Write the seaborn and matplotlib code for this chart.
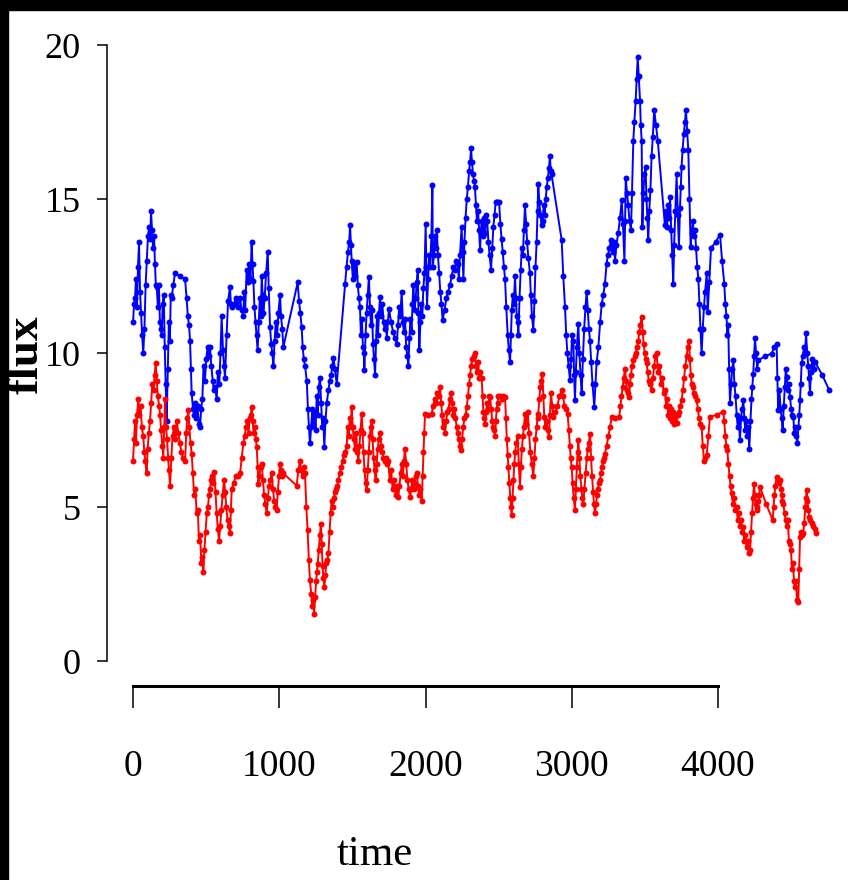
import numpy as np
import matplotlib
matplotlib.use("Agg")
import matplotlib.pyplot as plt
import seaborn as sns

# blue light curve, (time, flux) pairs
blue_series = [
    (0, 11.0), (7, 11.6), (14, 11.8), (20, 12.4), (27, 11.5), (34, 12.8), (41, 13.6),
    (48, 12.0), (55, 11.3), (62, 10.6), (70, 10.0), (78, 10.8), (86, 12.2), (94, 13.0),
    (102, 13.8), (110, 14.1), (117, 13.7), (123, 14.6), (130, 14.0), (137, 13.4),
    (144, 13.8), (150, 12.9), (156, 12.2), (162, 12.15), (170, 11.5), (177, 12.2),
    (184, 11.0), (190, 10.8), (196, 10.6), (203, 11.6), (210, 11.9), (217, 10.2),
    (223, 9.0), (230, 7.8), (238, 9.5), (245, 11.0), (252, 10.4), (258, 11.9),
    (264, 11.8), (275, 12.2), (287, 12.6), (320, 12.5), (356, 12.4), (366, 11.8),
    (375, 11.2), (383, 10.9), (390, 10.4), (396, 9.5), (401, 8.7), (410, 8.2),
    (418, 8.0), (426, 8.4), (433, 7.9), (441, 8.3), (450, 7.7), (458, 7.6), (466, 8.2),
    (474, 8.5), (482, 9.6), (492, 9.1), (500, 9.8), (510, 10.2), (518, 9.9),
    (526, 10.2), (535, 9.6), (545, 9.1), (553, 8.8), (562, 8.9), (572, 8.5),
    (580, 9.4), (590, 9.0), (598, 10.0), (606, 11.2), (615, 10.1), (622, 9.6),
    (629, 9.2), (640, 10.6), (650, 11.7), (663, 12.15), (669, 11.6), (675, 11.5),
    (690, 11.6), (705, 11.8), (718, 11.5), (732, 11.8), (742, 11.4), (754, 11.2),
    (760, 12.0), (767, 11.4), (777, 12.7), (785, 12.3), (795, 12.9), (803, 12.4),
    (811, 13.6), (817, 12.9), (823, 12.35), (830, 11.5), (838, 11.0), (845, 10.6),
    (852, 10.1), (860, 11.0), (867, 11.8), (874, 11.2), (880, 12.5), (886, 11.9),
    (891, 11.3), (900, 11.8), (910, 12.6), (921, 13.3), (928, 12.1), (937, 10.85),
    (945, 10.3), (952, 10.0), (960, 9.6), (968, 10.4), (976, 11.0), (985, 10.6),
    (994, 11.3), (1005, 11.9), (1012, 11.2), (1020, 10.8), (1028, 10.2),
    (1126, 12.3), (1135, 11.7), (1144, 11.3), (1153, 10.85), (1160, 10.2),
    (1168, 9.8), (1176, 9.6), (1188, 9.1), (1196, 8.2), (1203, 7.6), (1210, 7.07),
    (1218, 7.6), (1226, 8.2), (1233, 7.7), (1240, 8.1), (1248, 7.5), (1256, 8.6),
    (1263, 8.0), (1270, 8.9), (1279, 9.2), (1286, 8.4), (1294, 7.6), (1301, 7.9),
    (1308, 6.96), (1316, 7.8), (1325, 8.4), (1336, 8.8), (1345, 9.1), (1355, 9.3),
    (1363, 9.6), (1370, 9.85), (1380, 9.5), (1393, 9.0), (1450, 12.26),
    (1460, 12.8), (1470, 13.3), (1478, 13.6), (1484, 14.16), (1490, 13.5),
    (1495, 13.0), (1503, 12.4), (1510, 12.9), (1518, 12.5), (1529, 12.96),
    (1537, 12.2), (1545, 11.8), (1552, 11.5), (1558, 10.6), (1565, 11.1),
    (1572, 10.2), (1578, 10.0), (1582, 9.45), (1590, 10.6), (1597, 11.3),
    (1605, 11.9), (1613, 12.48), (1620, 11.5), (1627, 10.9), (1634, 11.4),
    (1641, 10.3), (1648, 9.8), (1655, 9.29), (1662, 10.4), (1668, 11.2),
    (1675, 10.6), (1682, 11.3), (1689, 11.83), (1697, 11.2), (1705, 11.6),
    (1713, 11.0), (1720, 10.8), (1728, 11.0), (1735, 10.5), (1750, 11.45),
    (1765, 11.0), (1778, 10.7), (1790, 10.5), (1803, 10.3), (1812, 10.9),
    (1820, 11.5), (1828, 11.2), (1837, 12.0), (1845, 11.0), (1852, 10.7),
    (1860, 11.1), (1868, 10.2), (1876, 9.9), (1883, 9.6), (1890, 10.5),
    (1897, 11.1), (1905, 10.7), (1911, 11.6), (1917, 12.2), (1925, 11.4),
    (1933, 11.8), (1940, 12.3), (1947, 12.7), (1952, 11.3), (1958, 10.1),
    (1965, 11.0), (1972, 11.6), (1978, 11.2), (1985, 12.1), (1993, 12.6),
    (2001, 14.2), (2006, 12.8), (2010, 11.5), (2018, 12.4), (2025, 13.2),
    (2032, 12.8), (2040, 13.8), (2047, 15.45), (2050, 12.8), (2058, 13.2),
    (2065, 13.8), (2071, 13.4), (2077, 14.0), (2085, 13.2), (2093, 12.6),
    (2101, 12.0), (2109, 11.6), (2117, 11.07), (2130, 11.4), (2143, 11.8),
    (2155, 12.0), (2167, 12.2), (2179, 12.5), (2190, 12.8), (2200, 12.7),
    (2210, 13.0), (2220, 12.9), (2228, 12.4), (2236, 13.2), (2247, 14.1),
    (2253, 13.3), (2259, 12.4), (2266, 13.6), (2274, 14.4), (2282, 15.0),
    (2290, 15.4), (2298, 15.9), (2305, 16.2), (2311, 16.65), (2318, 16.2),
    (2325, 15.8), (2332, 15.6), (2338, 15.4), (2345, 14.8), (2352, 14.3),
    (2360, 14.6), (2366, 14.0), (2373, 13.35), (2378, 13.9), (2384, 14.3),
    (2392, 13.8), (2400, 14.4), (2408, 13.9), (2415, 14.5), (2422, 14.3),
    (2430, 13.6), (2438, 13.2), (2448, 12.7), (2456, 13.4), (2464, 14.1),
    (2472, 14.5), (2480, 14.9), (2490, 14.9), (2503, 14.9), (2512, 14.2),
    (2520, 13.7), (2528, 13.3), (2536, 12.8), (2544, 12.4), (2552, 11.5),
    (2562, 10.6), (2570, 10.1), (2578, 9.7), (2584, 10.6), (2590, 11.4),
    (2597, 11.9), (2604, 11.6), (2612, 12.5), (2618, 11.8), (2624, 11.2),
    (2630, 11.0), (2635, 10.6), (2643, 11.8), (2651, 12.7), (2658, 13.4),
    (2666, 13.2), (2673, 14.0), (2680, 14.8), (2688, 14.2), (2695, 13.6),
    (2703, 13.1), (2714, 12.6), (2720, 11.9), (2728, 11.2), (2737, 10.75),
    (2745, 11.7), (2752, 12.8), (2760, 13.6), (2766, 14.6), (2771, 15.5),
    (2778, 14.9), (2786, 14.5), (2794, 14.16), (2801, 14.3), (2808, 14.8),
    (2815, 14.5), (2822, 15.0), (2829, 15.4), (2837, 15.7), (2844, 16.0),
    (2851, 16.4), (2856, 15.9), (2862, 15.8), (2931, 13.67), (2942, 12.5),
    (2954, 11.5), (2962, 10.6), (2970, 10.0), (2978, 9.6), (2988, 9.12),
    (2995, 9.8), (3003, 10.6), (3011, 10.4), (3016, 9.3), (3022, 8.47),
    (3028, 9.4), (3035, 10.2), (3045, 10.96), (3052, 10.0), (3060, 9.3),
    (3068, 8.7), (3076, 9.8), (3085, 10.8), (3094, 11.5), (3102, 12.0),
    (3110, 11.4), (3117, 10.8), (3125, 10.4), (3133, 9.7), (3142, 9.0),
    (3154, 8.26), (3162, 9.0), (3170, 9.7), (3182, 10.2), (3194, 11.0),
    (3205, 11.6), (3216, 11.9), (3227, 12.26), (3238, 12.9), (3248, 13.2),
    (3258, 13.4), (3268, 13.67), (3280, 13.3), (3288, 13.6), (3296, 13.0),
    (3305, 13.5), (3318, 13.9), (3330, 14.4), (3342, 14.97), (3350, 14.2),
    (3360, 13.0), (3365, 14.3), (3369, 15.7), (3378, 15.2), (3386, 14.8),
    (3395, 14.3), (3405, 14.0), (3412, 15.2), (3421, 16.9), (3428, 17.5),
    (3437, 18.2), (3444, 18.9), (3451, 19.6), (3458, 19.0), (3467, 18.2),
    (3472, 17.4), (3478, 16.9), (3483, 14.1), (3490, 15.2), (3497, 15.8),
    (3505, 16.05), (3511, 15.0), (3517, 14.4), (3523, 13.67), (3530, 14.6),
    (3538, 15.3), (3546, 16.4), (3554, 17.0), (3564, 17.9), (3576, 17.4),
    (3588, 16.9), (3637, 14.16), (3645, 14.6), (3652, 14.1), (3660, 14.8),
    (3667, 14.4), (3672, 15.07), (3680, 14.0), (3687, 13.2), (3694, 12.26),
    (3700, 13.5), (3708, 14.6), (3717, 15.8), (3725, 14.5), (3733, 13.45),
    (3740, 14.7), (3746, 15.4), (3751, 16.05), (3758, 16.6), (3766, 17.1),
    (3774, 17.5), (3781, 17.9), (3789, 17.2), (3797, 16.6), (3805, 15.0),
    (3813, 13.45), (3820, 13.9), (3828, 14.3), (3835, 13.8), (3843, 14.0),
    (3850, 13.4), (3858, 12.8), (3866, 12.4), (3873, 11.6), (3880, 10.8),
    (3888, 10.0), (3896, 10.8), (3904, 11.5), (3912, 12.0), (3923, 12.6),
    (3930, 11.34), (3940, 12.3), (3952, 13.4), (3983, 13.6), (4014, 13.85),
    (4028, 13.0), (4043, 12.26), (4050, 11.6), (4058, 11.2), (4064, 10.6),
    (4070, 10.9), (4076, 9.5), (4082, 8.4), (4090, 9.0), (4097, 9.5),
    (4105, 9.77), (4112, 9.0), (4120, 8.6), (4128, 8.0), (4135, 7.6),
    (4142, 7.9), (4150, 7.17), (4158, 7.9), (4165, 8.2), (4173, 8.47),
    (4180, 7.9), (4187, 7.5), (4194, 7.8), (4200, 7.3), (4207, 7.6),
    (4214, 6.9), (4222, 7.8), (4229, 8.5), (4235, 8.9), (4241, 9.34),
    (4247, 9.9), (4253, 10.48), (4260, 10.0), (4268, 9.5), (4276, 9.77),
    (4320, 9.9), (4367, 9.99), (4385, 10.2), (4401, 10.3), (4406, 9.2),
    (4412, 8.15), (4420, 8.8), (4428, 8.2), (4435, 7.9), (4442, 7.5),
    (4450, 8.3), (4457, 8.9), (4464, 9.5), (4470, 9.23), (4477, 8.8),
    (4484, 9.0), (4492, 8.58), (4500, 8.2), (4508, 8.0), (4515, 7.93),
    (4522, 7.4), (4530, 7.6), (4536, 7.3), (4542, 7.07), (4550, 7.6),
    (4556, 8.0), (4561, 8.47), (4566, 9.0), (4572, 9.67), (4580, 9.9),
    (4588, 10.2), (4595, 10.0), (4602, 10.64), (4610, 10.0), (4617, 9.6),
    (4623, 9.2), (4629, 8.7), (4636, 9.4), (4645, 9.8), (4654, 9.5),
    (4663, 9.72), (4712, 9.3), (4761, 8.8),
]

# red light curve
red_series = [
    (0, 6.5), (7, 7.2), (14, 7.8), (20, 7.1), (27, 8.0), (36, 8.5), (44, 8.0),
    (52, 8.3), (60, 7.6), (70, 7.3), (77, 6.8), (85, 6.5), (93, 6.1), (100, 6.9),
    (108, 7.4), (116, 7.8), (124, 8.4), (132, 9.0), (140, 8.8), (148, 9.3),
    (155, 9.67), (162, 9.1), (170, 8.6), (178, 8.3), (185, 8.0), (192, 7.5),
    (200, 7.0), (207, 6.6), (213, 7.6), (219, 8.5), (226, 7.6), (233, 7.2),
    (240, 6.6), (246, 6.2), (253, 5.7), (262, 6.6), (270, 7.3), (280, 7.6),
    (290, 7.2), (299, 7.8), (310, 7.4), (320, 7.1), (330, 6.8), (343, 6.6),
    (356, 6.5), (364, 7.4), (371, 7.9), (378, 8.15), (385, 7.6), (393, 7.1),
    (401, 6.74), (409, 6.1), (418, 5.4), (426, 5.6), (435, 4.8), (443, 4.9),
    (451, 3.9), (459, 4.1), (467, 3.2), (474, 3.4), (481, 2.9), (488, 3.6),
    (496, 4.2), (504, 4.8), (512, 5.0), (520, 5.4), (527, 5.6), (533, 5.9),
    (540, 6.0), (548, 5.8), (556, 6.15), (564, 5.5), (572, 4.8), (580, 4.3),
    (588, 3.9), (596, 4.4), (604, 4.9), (613, 5.4), (622, 5.9), (630, 5.5),
    (638, 5.0), (646, 4.6), (654, 4.4), (663, 4.15), (669, 4.9), (675, 5.6),
    (689, 5.8), (703, 6.0), (718, 6.0), (732, 6.1), (743, 6.6), (754, 7.07),
    (763, 7.3), (772, 7.6), (782, 7.8), (790, 7.4), (798, 7.9), (806, 8.0),
    (811, 8.26), (818, 7.8), (825, 7.4), (832, 7.6), (840, 7.2), (846, 6.96),
    (852, 6.3), (857, 5.77), (864, 6.0), (872, 6.3), (880, 6.42), (888, 5.9),
    (896, 5.4), (905, 5.1), (914, 4.8), (922, 5.3), (930, 5.7), (939, 5.9),
    (948, 6.1), (957, 5.6), (965, 5.2), (974, 5.0), (982, 4.9), (990, 5.5),
    (998, 6.0), (1005, 6.42), (1012, 6.2), (1020, 6.0), (1028, 6.1),
    (1119, 5.7), (1130, 6.2), (1142, 6.5), (1150, 6.2), (1160, 6.0), (1168, 6.3),
    (1176, 6.1), (1185, 5.0), (1194, 4.25), (1202, 3.3), (1210, 2.63),
    (1218, 2.2), (1226, 1.8), (1232, 2.0), (1238, 1.55), (1245, 2.1),
    (1252, 2.6), (1258, 2.9), (1263, 3.17), (1270, 3.6), (1278, 4.1),
    (1285, 4.47), (1290, 3.8), (1296, 3.1), (1302, 2.7), (1308, 2.4),
    (1315, 2.8), (1322, 3.2), (1329, 3.3), (1336, 3.5), (1344, 4.2), (1351, 4.8),
    (1358, 5.2), (1365, 5.0), (1373, 5.3), (1381, 5.5), (1390, 5.6), (1397, 5.7),
    (1404, 5.9), (1413, 6.1), (1423, 6.3), (1433, 6.5), (1442, 6.7), (1451, 6.8),
    (1461, 7.0), (1468, 7.6), (1475, 7.3), (1482, 7.9), (1489, 7.6),
    (1495, 8.26), (1502, 7.6), (1510, 7.2), (1518, 6.9), (1525, 7.4),
    (1533, 6.8), (1541, 6.5), (1548, 7.0), (1556, 7.5), (1564, 8.04),
    (1570, 7.4), (1576, 6.8), (1583, 6.2), (1590, 5.8), (1598, 5.55),
    (1605, 6.2), (1612, 6.8), (1619, 7.3), (1626, 7.6), (1632, 7.8), (1638, 7.2),
    (1645, 6.6), (1652, 6.2), (1659, 5.9), (1666, 6.4), (1673, 6.9), (1681, 7.2),
    (1689, 7.4), (1697, 7.0), (1705, 6.8), (1712, 6.6), (1720, 6.5), (1728, 6.6),
    (1735, 6.4), (1745, 6.5), (1755, 5.9), (1765, 6.2), (1775, 5.6), (1785, 5.9),
    (1795, 5.4), (1805, 5.7), (1814, 5.33), (1822, 5.7), (1830, 6.1),
    (1838, 6.4), (1845, 6.0), (1852, 6.5), (1860, 6.9), (1868, 6.4), (1876, 5.9),
    (1885, 5.6), (1894, 5.33), (1902, 5.6), (1910, 5.9), (1918, 5.6),
    (1926, 5.8), (1933, 6.0), (1940, 6.1), (1948, 5.7), (1956, 5.4), (1964, 5.6),
    (1974, 5.2), (1980, 6.0), (1986, 6.8), (1991, 7.4), (1997, 8.04),
    (2020, 8.0), (2042, 8.04), (2052, 8.3), (2062, 8.5), (2071, 8.4),
    (2080, 8.7), (2090, 8.6), (2099, 8.9), (2107, 8.4), (2114, 8.0), (2120, 7.6),
    (2126, 7.8), (2133, 7.4), (2141, 7.8), (2150, 8.1), (2158, 8.2), (2166, 8.5),
    (2174, 8.7), (2182, 8.4), (2190, 8.0), (2197, 8.2), (2205, 7.9), (2213, 7.6),
    (2220, 7.4), (2228, 7.2), (2236, 7.0), (2243, 6.85), (2250, 7.2),
    (2258, 7.6), (2266, 7.9), (2274, 8.0), (2282, 8.26), (2290, 8.6),
    (2298, 9.0), (2305, 9.3), (2312, 9.6), (2320, 9.8), (2330, 9.9), (2338, 10.0),
    (2345, 9.6), (2352, 9.4), (2360, 9.7), (2368, 9.2), (2376, 9.4), (2384, 9.2),
    (2390, 8.6), (2396, 8.1), (2402, 7.9), (2407, 7.7), (2414, 8.1), (2422, 8.4),
    (2430, 8.2), (2436, 8.6), (2441, 8.58), (2449, 8.2), (2456, 7.8),
    (2463, 7.6), (2470, 7.5), (2475, 7.3), (2481, 7.8), (2487, 8.2), (2493, 8.4),
    (2498, 8.6), (2510, 8.6), (2522, 8.5), (2533, 8.6), (2544, 8.58),
    (2550, 7.9), (2556, 7.2), (2562, 6.7), (2567, 6.3), (2573, 5.8), (2580, 5.3),
    (2585, 5.0), (2589, 4.74), (2595, 5.3), (2601, 5.9), (2607, 6.4),
    (2613, 6.8), (2621, 7.1), (2630, 7.3), (2638, 6.4), (2646, 5.66),
    (2652, 6.3), (2659, 6.9), (2666, 7.3), (2673, 7.6), (2680, 8.04),
    (2690, 7.7), (2699, 8.1), (2708, 7.4), (2717, 6.8), (2727, 6.4), (2737, 6.0),
    (2745, 6.6), (2752, 7.2), (2760, 7.6), (2766, 7.9), (2771, 8.04),
    (2778, 8.5), (2785, 8.9), (2792, 9.1), (2799, 9.34), (2806, 8.6),
    (2812, 7.93), (2820, 7.6), (2828, 7.8), (2836, 7.5), (2844, 7.28),
    (2851, 8.0), (2858, 8.7), (2866, 8.3), (2874, 7.93), (2888, 8.1),
    (2902, 8.3), (2916, 8.6), (2931, 8.8), (2940, 8.6), (2950, 8.3), (2960, 8.2),
    (2972, 8.04), (2980, 7.5), (2987, 7.0), (2993, 6.6), (2999, 6.3),
    (3006, 5.8), (3013, 5.3), (3022, 4.9), (3028, 5.6), (3035, 6.3), (3040, 6.8),
    (3045, 7.17), (3052, 6.6), (3059, 6.0), (3066, 5.6), (3072, 5.3),
    (3079, 5.12), (3087, 5.6), (3095, 6.1), (3103, 6.6), (3110, 6.9),
    (3117, 7.1), (3125, 7.39), (3132, 6.6), (3139, 6.0), (3146, 5.5),
    (3152, 5.1), (3159, 4.8), (3166, 5.1), (3173, 5.4), (3180, 5.6), (3186, 5.8),
    (3193, 5.88), (3200, 6.1), (3207, 6.3), (3214, 6.5), (3220, 6.6),
    (3227, 6.74), (3239, 7.0), (3250, 7.3), (3262, 7.6), (3273, 7.93),
    (3299, 7.9), (3325, 7.93), (3333, 8.3), (3340, 8.6), (3348, 8.9),
    (3356, 9.2), (3364, 9.5), (3371, 9.1), (3378, 8.8), (3385, 8.7),
    (3391, 8.58), (3398, 9.0), (3405, 9.3), (3413, 9.6), (3421, 9.77),
    (3430, 9.9), (3438, 10.0), (3446, 10.2), (3455, 10.4), (3462, 10.7),
    (3470, 10.9), (3478, 11.18), (3485, 10.7), (3492, 10.3), (3499, 10.0),
    (3506, 9.8), (3512, 9.67), (3519, 9.4), (3527, 9.1), (3535, 9.0),
    (3546, 8.8), (3555, 9.2), (3564, 9.6), (3572, 9.9), (3580, 10.0),
    (3590, 9.4), (3600, 9.6), (3610, 9.0), (3620, 9.2), (3628, 8.7), (3637, 8.8),
    (3645, 8.3), (3652, 8.5), (3660, 8.0), (3667, 8.3), (3672, 7.9),
    (3680, 8.2), (3687, 7.8), (3695, 8.1), (3702, 7.7), (3710, 8.0),
    (3717, 7.72), (3725, 8.0), (3733, 8.1), (3742, 8.3), (3751, 8.47),
    (3760, 8.8), (3768, 9.2), (3777, 9.6), (3785, 9.9), (3794, 10.2),
    (3802, 10.4), (3808, 9.8), (3814, 9.3), (3820, 9.0), (3828, 8.9),
    (3836, 8.7), (3845, 8.6), (3854, 8.47), (3862, 8.2), (3870, 7.9),
    (3880, 7.7), (3888, 7.6), (3896, 7.0), (3905, 6.5), (3914, 6.6),
    (3923, 6.7), (3934, 7.3), (3945, 7.93), (3990, 8.0), (4036, 8.1),
    (4043, 7.8), (4050, 7.3), (4057, 7.0), (4064, 6.85), (4071, 6.4),
    (4079, 6.0), (4086, 5.7), (4093, 5.45), (4102, 5.1), (4110, 5.3),
    (4118, 4.9), (4127, 5.0), (4135, 4.6), (4142, 4.8), (4150, 4.4),
    (4158, 4.6), (4166, 4.2), (4173, 4.36), (4180, 3.9), (4188, 4.1),
    (4196, 3.7), (4204, 3.9), (4212, 3.5), (4219, 3.6), (4226, 4.2),
    (4233, 4.8), (4240, 5.3), (4246, 5.77), (4252, 5.4), (4258, 5.1),
    (4264, 5.0), (4269, 4.9), (4275, 5.2), (4281, 5.4), (4287, 5.66),
    (4330, 5.1), (4374, 4.58), (4380, 5.0), (4386, 5.4), (4392, 5.7),
    (4401, 5.98), (4408, 5.9), (4416, 5.8), (4424, 5.88), (4430, 5.6),
    (4436, 5.4), (4441, 5.2), (4447, 5.12), (4455, 4.8), (4462, 4.6),
    (4470, 4.4), (4477, 4.6), (4485, 3.9), (4492, 3.82), (4499, 3.6),
    (4506, 3.0), (4513, 3.2), (4520, 2.6), (4526, 2.41), (4533, 2.6),
    (4540, 2.0), (4549, 1.93), (4555, 3.0), (4561, 4.04), (4567, 4.2),
    (4573, 4.1), (4583, 4.15), (4590, 4.5), (4597, 5.0), (4602, 5.3),
    (4606, 5.55), (4612, 5.2), (4618, 4.9), (4624, 4.7), (4629, 4.58),
    (4640, 4.5), (4650, 4.4), (4660, 4.3), (4670, 4.15),
]

x_ticks = [0, 1000, 2000, 3000, 4000]
y_ticks = [0, 5, 10, 15, 20]

sns.set_theme(style="white")
plt.rcParams["font.family"] = ["Liberation Serif", "DejaVu Serif"]
plt.rcParams["text.color"] = "black"
plt.rcParams["xtick.color"] = "black"
plt.rcParams["ytick.color"] = "black"

W, H = 848, 880
fig = plt.figure(figsize=(W / 100, H / 100), dpi=100, facecolor="white")
# axes placed in pixel terms: left spine at x=107, bottom spine at y=686
ax = fig.add_axes([107 / W, (H - 686) / H, (W - 107) / W, (686 - 20.4) / H])
ax.set_facecolor("white")

for series, colour in [(blue_series, "#0000ff"), (red_series, "#ff0000")]:
    t = [p[0] for p in series]
    f = [p[1] for p in series]
    sns.lineplot(x=t, y=f, ax=ax, color=colour, marker="o", markersize=4.3,
                 markeredgewidth=0, linewidth=1.4, sort=False, estimator=None)

ax.set_xlim(-178, 4889)
ax.set_ylim(-0.8, 20.8)
ax.set_xticks(x_ticks)
ax.set_yticks(y_ticks)
ax.set_xticklabels([str(t) for t in x_ticks])
ax.set_yticklabels([str(t) for t in y_ticks])

for side in ["top", "right"]:
    ax.spines[side].set_visible(False)
ax.spines["left"].set_bounds(0, 20)
ax.spines["bottom"].set_bounds(0, 4000)
ax.spines["left"].set_linewidth(1.1)
ax.spines["bottom"].set_linewidth(2.2)
ax.spines["left"].set_color("black")
ax.spines["bottom"].set_color("black")

ax.tick_params(axis="y", direction="out", length=7, width=1.1, color="black",
               labelcolor="black", labelsize=26, pad=12, left=True)
ax.tick_params(axis="x", direction="out", length=16, width=1.1, color="black",
               labelcolor="black", labelsize=27, pad=30, bottom=True)
ax.grid(False)
ax.set_xlabel("")
ax.set_ylabel("")

fig.text(375 / W, 6 / H, "time", ha="center", va="bottom", fontsize=31,
         color="black")
fig.text(27 / W, (H - 355) / H, "flux", ha="center", va="center", rotation=90,
         fontsize=34, fontweight="bold", color="black")

# dark frame strips along the top and left edges
fig.add_artist(plt.Rectangle((0, 1 - 10 / H), 1, 10 / H, transform=fig.transFigure,
                             color="black", zorder=10))
fig.add_artist(plt.Rectangle((0, 0), 8 / W, 1, transform=fig.transFigure,
                             color="black", zorder=10))

fig.savefig("out.png", dpi=100, facecolor="white")
